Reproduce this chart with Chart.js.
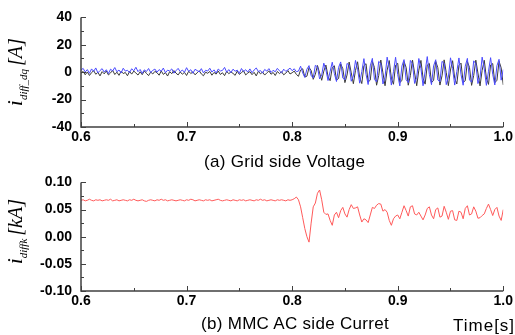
<!DOCTYPE html>
<html lang="en">
<head>
<meta charset="UTF-8">
<title>Differential current</title>
<script src="https://cdn.jsdelivr.net/npm/chart.js"></script>
<style>
    body {
        margin: 0;
        width: 515px;
        height: 335px;
        background: #fff;
        position: relative;
        overflow: hidden;
        font-family: "Liberation Sans", Arial, sans-serif;
    }
    .box {
        position: absolute;
        left: 0;
        width: 515px;
    }
    #topBox { top: 0; height: 165px; }
    #botBox { top: 165px; height: 170px; }
    .cap {
        position: absolute;
        font-size: 17px;
        letter-spacing: 0.3px;
        color: #000;
        white-space: nowrap;
    }
</style>
</head>
<body>
<div class="box" id="topBox"><canvas id="topChart"></canvas></div>
<div class="box" id="botBox"><canvas id="botChart"></canvas></div>
<div class="cap" style="left:204px; top:152px;">(a) Grid side Voltage</div>
<div class="cap" style="left:201px; top:314px;">(b) MMC AC side Curret</div>
<div class="cap" style="left:453px; top:316px; letter-spacing:1px;">Time[s]</div>

<script>
    // sample grid: 0.6 s .. 1.0 s, every 2 ms
    const tStart = 0.6;
    const tStep = 0.002;

    const xTicks = [0.6, 0.7, 0.8, 0.9, 1.0];
    const topTicks = [-40, -20, 0, 20, 40];
    const botTicks = [-0.10, -0.05, 0.00, 0.05, 0.10];

    // (a) i_diff_dq [A], blue trace
    const diffBlue = [
        1.5, 2.8, 0.2, 1.9, -0.8, 2.4, 0.6, 3.1, -0.5, 1.2, 2.6, 0.1, 1.8, -1.0, 2.2, 0.9, 3.4, 0.3, 1.6, -0.6,
        2.9, 0.8, 1.4, -0.3, 2.5, 1.0, 3.6, 0.4, 2.0, -0.9, 1.7, 0.5, 2.7, -0.2, 1.3, 2.3, 0.0, 1.9, 0.7, 3.0,
        -0.4, 1.5, 0.9, 2.4, -0.7, 1.1, 2.8, 0.3, 1.6, -0.1, 3.3, 0.6, 1.8, -0.8, 2.1, 1.2, 0.2, 2.6, -0.5, 1.4,
        0.8, 2.9, 0.1, 1.7, -0.6, 2.3, 0.9, 1.3, 3.5, 0.0, 1.9, -0.3, 2.2, 0.7, 1.5, -0.9, 2.7, 0.4, 1.8, 0.1,
        2.4, -0.4, 1.6, 3.1, 0.5, 1.2, -0.7, 2.0, 0.8, 2.6, -0.2, 1.4, 0.3, 2.8, 1.0, -0.5, 2.2, 0.6, 1.7, 3.0,
        1.1, 2.5, 0.4,
        0.8, 4.4, -0.5, -3.8, 2.2, 4.8, -2.6,
        -4.1, 5.0, 3.9, -4.9, -2.0, 6.6, 1.7, -6.1, 0.6, 7.3,
        -1.0, -6.8, 3.5, 7.5, -4.3, -5.6, 6.4, 5.1, -6.6, -2.8,
        8.6, 2.2, -8.0, 0.5, 9.9, -1.6, -9.0, 4.6, 10.1, -5.4,
        -7.0, 7.9, 6.4, -8.6, -3.6, 11.0, 2.5, -9.4, 0.4, 10.9,
        -1.7, -10.0, 4.5, 9.2, -5.5, -7.6, 8.6, 6.3, -8.2, -3.7,
        10.0, 2.6, -9.9, 0.6, 11.4, -1.6, -9.1, 4.6, 9.1, -5.7,
        -7.0, 7.9, 6.4, -9.1, -3.6, 10.5, 2.7, -9.4, 0.5, 10.4,
        -1.8, -9.5, 4.4, 10.1, -5.6, -7.3, 8.3, 6.2, -8.3, -3.8,
        11.0, 2.4, -9.6, 0.7, 10.6, -1.5, -9.3, 4.7, 9.4, -5.8, 2.0
    ];

    // (a) i_diff_dq [A], black trace
    const diffBlack = [
        -0.8, 0.6, -1.9, 0.2, -2.4, -0.3, 1.1, -1.5, -0.1, -2.7, 0.4, -1.2, 0.9, -2.0, -0.5, 1.3, -1.7, 0.0, -2.3, 0.7,
        -1.0, -0.2, -2.6, 0.5, -1.4, 0.8, -0.6, -2.1, 0.3, -1.8, 1.0, -0.9, -2.5, 0.1, -1.3, 0.6, -0.4, -2.2, 0.9, -1.6,
        -0.3, -2.8, 0.4, -1.1, 1.2, -0.7, -2.0, 0.2, -1.5, -0.1, -2.4, 0.7, -1.0, 0.3, -1.9, -0.5, 1.1, -1.3, -2.6, 0.0,
        -0.8, 0.5, -2.2, -0.2, -1.4, 0.9, -1.7, -0.4, -2.5, 0.6, -1.1, 0.2, -0.9, -2.3, 0.8, -1.6, -0.3, 1.0, -2.0, -0.6,
        0.4, -1.8, -0.1, -2.7, 0.7, -1.2, 0.1, -2.1, -0.5, 0.9, -1.5, -0.2, -2.4, 0.5, -1.0, 0.3, -1.9, -0.7, 1.2, -1.3,
        -0.4, 0.8, -1.6,
        -3.0, 1.6, 2.5, -3.5, -2.9, 3.4, 1.3,
        -5.2, -1.5, 4.9, -0.5, -5.9, 0.8, 5.2, -3.0, -6.2, 3.3,
        4.7, -5.7, -4.6, 6.0, 2.6, -7.6, -2.1, 7.4, -0.5, -8.4,
        1.2, 7.6, -4.0, -8.3, 4.8, 6.2, -7.2, -5.8, 7.8, 3.4,
        -9.5, -2.5, 8.9, -0.5, -9.9, 1.5, 8.5, -4.4, -8.8, 5.1,
        6.5, -7.5, -6.1, 7.8, 3.4, -9.5, -2.5, 8.9, -0.5, -9.9,
        1.5, 8.6, -4.3, -8.7, 5.2, 6.4, -7.6, -6.0, 7.9, 3.3,
        -9.4, -2.6, 9.0, -0.4, -9.8, 1.6, 8.4, -4.5, -8.6, 5.0,
        6.6, -7.4, -6.2, 7.7, 3.5, -9.6, -2.4, 8.8, -0.6, -10.0,
        1.4, 8.7, -4.2, -8.9, 5.3, 6.3, -7.7, -5.9, 8.0, 3.2, -9.3
    ];

    // (b) i_diffk [kA]
    const diffK = [
        0.067, 0.068, 0.066, 0.067, 0.069, 0.067, 0.066, 0.068, 0.067, 0.068,
        0.066, 0.067, 0.068, 0.067, 0.069, 0.066, 0.067, 0.068, 0.066, 0.067,
        0.068, 0.067, 0.066, 0.068, 0.067, 0.069, 0.067, 0.066, 0.067, 0.068,
        0.066, 0.065, 0.067, 0.068, 0.067, 0.066, 0.068, 0.067, 0.069, 0.067,
        0.068, 0.066, 0.067, 0.068, 0.067, 0.066, 0.067, 0.068, 0.067, 0.066,
        0.068, 0.067, 0.069, 0.068, 0.066, 0.067, 0.068, 0.067, 0.066, 0.068,
        0.067, 0.068, 0.066, 0.067, 0.068, 0.069, 0.067, 0.066, 0.067, 0.068,
        0.067, 0.066, 0.068, 0.067, 0.066, 0.068, 0.067, 0.068, 0.066, 0.067,
        0.068, 0.067, 0.066, 0.068, 0.067, 0.069, 0.067, 0.068, 0.066, 0.067,
        0.068, 0.067, 0.066, 0.068, 0.067, 0.068, 0.067, 0.066, 0.068, 0.067,
        0.068, 0.070, 0.073, 0.068, 0.055, 0.035, 0.015, 0.000, -0.010, 0.025,
        0.055, 0.062, 0.080, 0.086, 0.068, 0.045, 0.041, 0.042, 0.030, 0.021,
        0.040, 0.045, 0.035, 0.048, 0.054, 0.042, 0.036, 0.050, 0.059, 0.052,
        0.053, 0.055, 0.040, 0.027, 0.033, 0.031, 0.026, 0.040, 0.054, 0.052,
        0.058, 0.061, 0.060, 0.047, 0.050, 0.045, 0.030, 0.021, 0.033, 0.038,
        0.040, 0.033, 0.045, 0.057, 0.048, 0.038, 0.055, 0.057, 0.042, 0.040,
        0.045, 0.038, 0.031, 0.040, 0.052, 0.055, 0.040, 0.033, 0.050, 0.053,
        0.036, 0.038, 0.056, 0.045, 0.032, 0.047, 0.048, 0.031, 0.030, 0.047,
        0.045, 0.033, 0.052, 0.057, 0.040, 0.042, 0.055, 0.047, 0.034, 0.035,
        0.039, 0.042, 0.052, 0.060, 0.050, 0.039, 0.050, 0.054, 0.038, 0.030,
        0.050
    ];

    function toPoints(values) {
        return values.map((v, i) => ({ x: tStart + i * tStep, y: v }));
    }

    // ticks pointing into the plot, major + minor, plus left/bottom axis lines and y title
    const axisMarks = {
        id: 'axisMarks',
        afterDraw(chart, args, opts) {
            const ctx = chart.ctx;
            const a = chart.chartArea;
            const xs = chart.scales.x;
            const ys = chart.scales.y;
            ctx.save();
            ctx.strokeStyle = '#404040';
            ctx.lineWidth = 1;
            ctx.beginPath();
            const xt = opts.xTicks;
            for (let i = 0; i < xt.length; i++) {
                const px = Math.round(xs.getPixelForValue(xt[i])) + 0.5;
                ctx.moveTo(px, a.bottom); ctx.lineTo(px, a.bottom - 5);
                if (i < xt.length - 1) {
                    const mx = Math.round(xs.getPixelForValue((xt[i] + xt[i + 1]) / 2)) + 0.5;
                    ctx.moveTo(mx, a.bottom); ctx.lineTo(mx, a.bottom - 3);
                }
            }
            const yt = opts.yTicks;
            for (let i = 0; i < yt.length; i++) {
                const py = Math.round(ys.getPixelForValue(yt[i])) + 0.5;
                ctx.moveTo(a.left, py); ctx.lineTo(a.left + 5, py);
                if (i < yt.length - 1) {
                    const my = Math.round(ys.getPixelForValue((yt[i] + yt[i + 1]) / 2)) + 0.5;
                    ctx.moveTo(a.left, my); ctx.lineTo(a.left + 3, my);
                }
            }
            ctx.stroke();

            ctx.lineWidth = 1.5;
            ctx.beginPath();
            ctx.moveTo(a.left, a.top);
            ctx.lineTo(a.left, a.bottom);
            ctx.lineTo(a.right, a.bottom);
            ctx.stroke();

            // rotated y title with subscript
            const parts = opts.title;
            let total = 0;
            parts.forEach(p => {
                ctx.font = 'italic ' + p.size + 'px "Liberation Serif", "Times New Roman", serif';
                p.w = ctx.measureText(p.text).width;
                total += p.w + (p.gap || 0);
            });
            ctx.translate(opts.titleX, (a.top + a.bottom) / 2 + (opts.titleShift || 0));
            ctx.rotate(-Math.PI / 2);
            ctx.fillStyle = '#000';
            ctx.textBaseline = 'alphabetic';
            let cx = -total / 2;
            parts.forEach(p => {
                cx += (p.gap || 0);
                ctx.font = 'italic ' + p.size + 'px "Liberation Serif", "Times New Roman", serif';
                ctx.fillText(p.text, cx, p.dy || 0);
                cx += p.w;
            });
            ctx.restore();
        }
    };

    const tickFont = { family: '"Liberation Sans", Arial, sans-serif', size: 14, weight: 'bold' };

    function makeOptions(yMin, yMax, yStep, digits, xHeight, padTop, marks) {
        return {
            responsive: true,
            maintainAspectRatio: false,
            animation: false,
            events: [],
            layout: { padding: { top: padTop, right: 11, left: 0, bottom: 0 } },
            plugins: {
                legend: { display: false },
                tooltip: { enabled: false },
                axisMarks: marks
            },
            scales: {
                x: {
                    type: 'linear',
                    min: 0.6,
                    max: 1.0,
                    grid: { display: false, drawTicks: false },
                    border: { display: false },
                    ticks: {
                        stepSize: 0.1,
                        padding: 2,
                        color: '#000',
                        font: tickFont,
                        maxRotation: 0,
                        callback: v => v.toFixed(1)
                    },
                    afterFit: s => { s.height = xHeight; }
                },
                y: {
                    min: yMin,
                    max: yMax,
                    grid: { display: false, drawTicks: false },
                    border: { display: false },
                    ticks: {
                        stepSize: yStep,
                        padding: 9,
                        color: '#000',
                        font: tickFont,
                        callback: v => Math.abs(v) < 1e-9 ? (0).toFixed(digits) : v.toFixed(digits)
                    },
                    afterFit: s => { s.width = 81; }
                }
            }
        };
    }

    new Chart(document.getElementById('topChart'), {
        type: 'line',
        data: {
            datasets: [{
                data: toPoints(diffBlue),
                borderColor: '#4a4aff',
                borderWidth: 1,
                pointRadius: 0,
                tension: 0
            }, {
                data: toPoints(diffBlack),
                borderColor: '#3a3a3a',
                borderWidth: 1,
                pointRadius: 0,
                tension: 0
            }]
        },
        options: makeOptions(-40, 40, 20, 0, 38, 15, {
            xTicks: xTicks,
            yTicks: topTicks,
            titleX: 22,
            title: [
                { text: 'i', size: 22 },
                { text: 'diff_dq', size: 11, dy: 5 },
                { text: '[A]', size: 20, gap: 3 }
            ]
        }),
        plugins: [axisMarks]
    });

    new Chart(document.getElementById('botChart'), {
        type: 'line',
        data: {
            datasets: [{
                data: toPoints(diffK),
                borderColor: '#ff5a5a',
                borderWidth: 1,
                pointRadius: 0,
                tension: 0
            }]
        },
        options: makeOptions(-0.1, 0.1, 0.05, 2, 44, 14, {
            xTicks: xTicks,
            yTicks: botTicks,
            titleX: 22,
            titleShift: -5,
            title: [
                { text: 'i', size: 22 },
                { text: 'diffk', size: 11, dy: 5 },
                { text: '[kA]', size: 20, gap: 3 }
            ]
        }),
        plugins: [axisMarks]
    });
</script>
</body>
</html>
